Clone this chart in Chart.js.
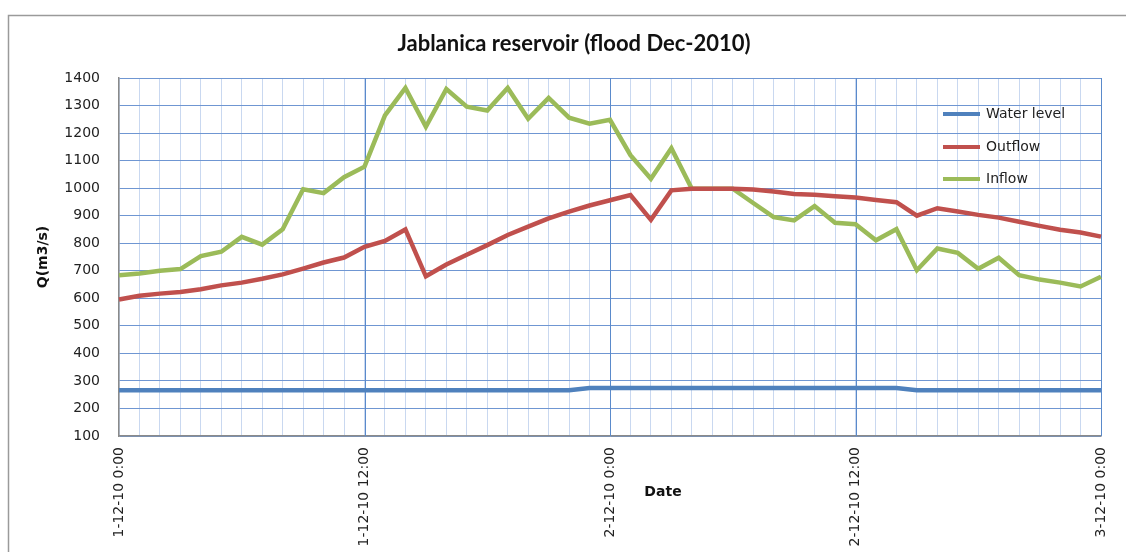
<!DOCTYPE html>
<html>
<head>
<meta charset="utf-8">
<script src="https://cdn.jsdelivr.net/npm/chart.js@4.4.7/dist/chart.umd.js"></script>
<style>
  html, body { margin: 0; padding: 0; background: #fff; }
  #wrap { width: 1126px; height: 552px; position: relative; }
</style>
</head>
<body>
<div id="wrap"><canvas id="c" width="1126" height="552"></canvas></div>
<script>
// hourly time stamps, 1 Dec 2010 00:00 -> 3 Dec 2010 00:00
const categories = [
  "1-12-10 0:00", "1-12-10 1:00", "1-12-10 2:00", "1-12-10 3:00", "1-12-10 4:00", "1-12-10 5:00",
  "1-12-10 6:00", "1-12-10 7:00", "1-12-10 8:00", "1-12-10 9:00", "1-12-10 10:00", "1-12-10 11:00",
  "1-12-10 12:00", "1-12-10 13:00", "1-12-10 14:00", "1-12-10 15:00", "1-12-10 16:00", "1-12-10 17:00",
  "1-12-10 18:00", "1-12-10 19:00", "1-12-10 20:00", "1-12-10 21:00", "1-12-10 22:00", "1-12-10 23:00",
  "2-12-10 0:00", "2-12-10 1:00", "2-12-10 2:00", "2-12-10 3:00", "2-12-10 4:00", "2-12-10 5:00",
  "2-12-10 6:00", "2-12-10 7:00", "2-12-10 8:00", "2-12-10 9:00", "2-12-10 10:00", "2-12-10 11:00",
  "2-12-10 12:00", "2-12-10 13:00", "2-12-10 14:00", "2-12-10 15:00", "2-12-10 16:00", "2-12-10 17:00",
  "2-12-10 18:00", "2-12-10 19:00", "2-12-10 20:00", "2-12-10 21:00", "2-12-10 22:00", "2-12-10 23:00",
  "3-12-10 0:00"
];

const waterLevel = [
  266, 266, 266, 266, 266, 266, 266, 266, 266, 266, 266, 266,
  266, 266, 266, 266, 266, 266, 266, 266, 266, 266, 266, 274,
  274, 274, 274, 274, 274, 274, 274, 274, 274, 274, 274, 274,
  274, 274, 274, 266, 266, 266, 266, 266, 266, 266, 266, 266,
  266
];

const outflow = [
  596, 609, 617, 623, 633, 647, 657, 671, 687, 708, 730, 748,
  787, 808, 850, 680, 723, 758, 793, 830, 860, 890, 915, 937,
  956, 975, 885, 992, 998, 998, 998, 995, 988, 979, 976, 971,
  966, 957, 949, 900, 927, 915, 903, 893, 878, 863, 849, 839,
  824
];

const inflow = [
  684, 690, 700, 706, 753, 769, 823, 795, 851, 996, 982, 1040,
  1078, 1264, 1364, 1223, 1360, 1296, 1282, 1364, 1252, 1328, 1256, 1234,
  1248, 1120, 1034, 1145, 998, 998, 998, 946, 895, 883, 935, 874,
  869, 811, 851, 702, 781, 765, 707, 747, 684, 668, 657, 643,
  678
];

const seriesNames = ["Water level", "Outflow", "Inflow"];
const seriesColors = ["#4F81BD", "#C0504D", "#9BBB59"];
const yTicks = { min: 100, max: 1400, step: 100 };
const chartTitle = "Jablanica reservoir (flood Dec-2010)";

// frame, title, 12-hour gridlines, legend inside plot, x-axis title
const extras = {
  id: "extras",
  beforeDraw(chart) {
    const ctx = chart.ctx;
    ctx.save();
    ctx.fillStyle = "#fff";
    ctx.fillRect(0, 0, chart.width, chart.height);
    ctx.strokeStyle = "#9a9a9a";
    ctx.lineWidth = 1.5;
    ctx.strokeRect(8.5, 15.5, chart.width + 10, chart.height + 10);
    ctx.font = "bold 22px Lato";
    ctx.fillStyle = "#111";
    ctx.textAlign = "center";
    ctx.textBaseline = "middle";
    ctx.fillText(chartTitle, 574, 44);
    ctx.restore();
  },
  beforeDatasetsDraw(chart) {
    const ctx = chart.ctx;
    const x = chart.scales.x;
    const area = chart.chartArea;
    ctx.save();
    ctx.strokeStyle = "#5A8ACB";
    ctx.lineWidth = 1;
    for (let i = 12; i < categories.length; i += 12) {
      const px = Math.round(x.getPixelForValue(i)) + 0.5;
      ctx.beginPath();
      ctx.moveTo(px, area.top);
      ctx.lineTo(px, area.bottom);
      ctx.stroke();
    }
    ctx.restore();
  },
  afterDraw(chart) {
    const ctx = chart.ctx;
    ctx.save();
    // legend
    const ys = [114, 147, 179];
    ctx.font = "14px 'DejaVu Sans'";
    ctx.textBaseline = "middle";
    seriesNames.forEach((name, i) => {
      ctx.strokeStyle = seriesColors[i];
      ctx.lineWidth = 4;
      ctx.beginPath();
      ctx.moveTo(943, ys[i]);
      ctx.lineTo(980, ys[i]);
      ctx.stroke();
      ctx.fillStyle = "#222";
      ctx.fillText(name, 986, ys[i]);
    });
    // x-axis title
    ctx.font = "bold 14px 'DejaVu Sans'";
    ctx.fillStyle = "#111";
    ctx.textAlign = "center";
    ctx.fillText("Date", 663, 492);
    ctx.restore();
  }
};

new Chart(document.getElementById("c"), {
  type: "line",
  data: {
    labels: categories,
    datasets: [
      { label: seriesNames[0], data: waterLevel, borderColor: seriesColors[0] },
      { label: seriesNames[1], data: outflow, borderColor: seriesColors[1] },
      { label: seriesNames[2], data: inflow, borderColor: seriesColors[2] }
    ].map(d => Object.assign(d, {
      borderWidth: 4.5,
      pointRadius: 0,
      tension: 0,
      fill: false
    }))
  },
  options: {
    responsive: false,
    animation: false,
    layout: { padding: { left: 8, right: 25, top: 78, bottom: 0 } },
    plugins: {
      legend: { display: false },
      tooltip: { enabled: false },
      title: { display: false }
    },
    scales: {
      x: {
        type: "category",
        offset: false,
        afterFit: s => { s.height = 116; s.paddingLeft = 0; s.paddingRight = 0; },
        grid: { drawTicks: false, lineWidth: 1, color: "#C9D8F0" },
        border: { color: "#8a8a8a", width: 1.5 },
        ticks: {
          autoSkip: false,
          minRotation: 90,
          maxRotation: 90,
          padding: 11,
          color: "#222",
          font: { family: "DejaVu Sans", size: 14 },
          callback: function (v, i) { return i % 12 === 0 ? this.getLabelForValue(v) : ""; }
        }
      },
      y: {
        min: yTicks.min,
        max: yTicks.max,
        afterFit: s => { s.width = 111; },
        grid: { drawTicks: false, color: "#6F96D2", lineWidth: 1 },
        border: { color: "#8a8a8a", width: 1.5 },
        ticks: {
          stepSize: yTicks.step,
          padding: 19,
          color: "#222",
          font: { family: "DejaVu Sans", size: 14 },
          callback: v => String(v)
        },
        title: {
          display: true,
          text: "Q(m3/s)",
          color: "#111",
          font: { family: "DejaVu Sans", size: 14, weight: "bold" },
          padding: { top: 27, bottom: 0 }
        }
      }
    }
  },
  plugins: [extras]
});
</script>
</body>
</html>
